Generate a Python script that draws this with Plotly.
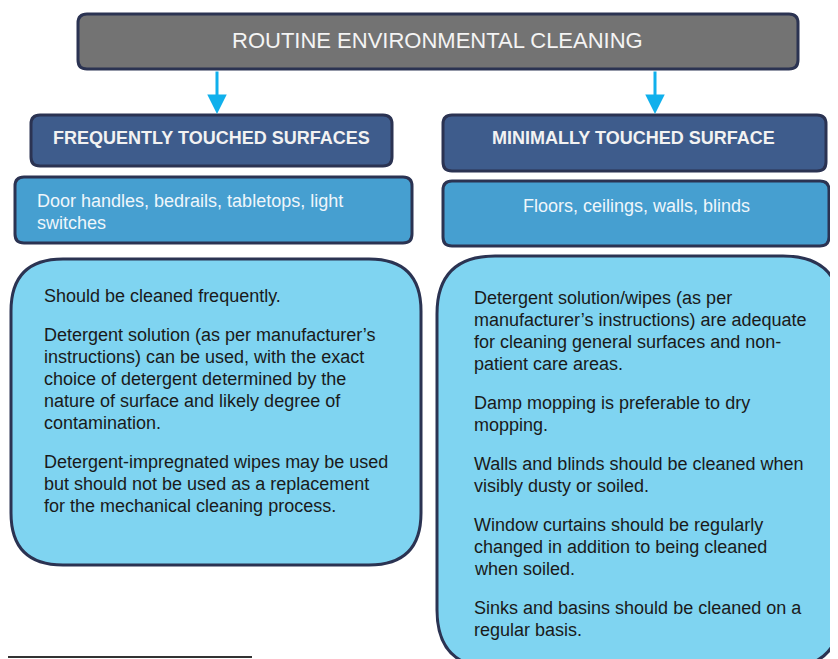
import plotly.graph_objects as go

W, H = 838, 659
OFF = 8  # page body margin compensation

title_text = "ROUTINE ENVIRONMENTAL CLEANING"
headers = ["FREQUENTLY TOUCHED SURFACES", "MINIMALLY TOUCHED SURFACE"]
examples_left = ["Door handles, bedrails, tabletops, light", "switches"]
examples_right = ["Floors, ceilings, walls, blinds"]
notes_left = [
    ["Should be cleaned frequently."],
    ["Detergent solution (as per manufacturer\u2019s", "instructions) can be used, with the exact",
     "choice of detergent determined by the", "nature of surface and likely degree of", "contamination."],
    ["Detergent-impregnated wipes may be used", "but should not be used as a replacement",
     "for the mechanical cleaning process."],
]
notes_right = [
    ["Detergent solution/wipes (as per", "manufacturer\u2019s instructions) are adequate",
     "for cleaning general surfaces and non-", "patient care areas."],
    ["Damp mopping is preferable to dry", "mopping."],
    ["Walls and blinds should be cleaned when", "visibly dusty or soiled."],
    ["Window curtains should be regularly", "changed in addition to being cleaned", "when soiled."],
    ["Sinks and basins should be cleaned on a", "regular basis."],
]

FONT = "Liberation Sans, Arial, sans-serif"
BORDER = "#2b3352"


def rrect(x0, y0, x1, y1, r):
    return (f"M {x0+r},{y0} L {x1-r},{y0} Q {x1},{y0} {x1},{y0+r} "
            f"L {x1},{y1-r} Q {x1},{y1} {x1-r},{y1} L {x0+r},{y1} "
            f"Q {x0},{y1} {x0},{y1-r} L {x0},{y0+r} Q {x0},{y0} {x0+r},{y0} Z")


shapes = []
annotations = []


def box(x0, y0, x1, y1, r, fill, lw=3):
    shapes.append(dict(type="path", path=rrect(x0, y0, x1, y1, r), xref="x", yref="y",
                       fillcolor=fill, line=dict(color=BORDER, width=lw), layer="below"))


def text(x, y, s, size, color, xanchor="left", bold=False):
    if bold:
        s = f"<b>{s}</b>"
    annotations.append(dict(x=x, y=y, xref="x", yref="y", text=s, showarrow=False,
                            xanchor=xanchor, yanchor="middle",
                            font=dict(family=FONT, size=size, color=color)))


# top box
box(78, 14, 798, 69, 9, "#737373")
text(437, 40, title_text, 22, "#f4f4f4", "center")

# arrows
for x in (217, 655):
    annotations.append(dict(x=x, y=114, ax=x, ay=70, xref="x", yref="y", axref="x", ayref="y",
                            text="", showarrow=True, arrowhead=2, arrowsize=1.3, arrowwidth=3,
                            arrowcolor="#10b0ec"))

# header boxes
box(31, 115, 392, 166, 9, "#3e5c8c")
text(211, 138, headers[0], 18, "#f2f2f2", "center", bold=True)
box(443, 115, 826, 171, 9, "#3e5c8c")
text(633, 138, headers[1], 18, "#f2f2f2", "center", bold=True)

# example boxes
box(15, 177, 412, 243, 9, "#469fd0")
for i, s in enumerate(examples_left):
    text(35, 201 + 22 * i, s, 18, "#eef6fb")
box(443, 181, 829, 246, 9, "#469fd0")
text(636, 206, examples_right[0], 18, "#eef6fb", "center")

# note boxes
box(11, 259, 421, 565, 52, "#7fd4f1")
box(437, 256, 841, 668, 58, "#7fd4f1")

LH = 22
PG = 17


def paragraphs(x, y, paras):
    for para in paras:
        for s in para:
            text(x, y, s, 18, "#1a1a1a")
            y += LH
        y += PG


paragraphs(42, 296, notes_left)
paragraphs(472, 298, notes_right)

# bottom rule
shapes.append(dict(type="line", x0=0, x1=252, y0=657, y1=657, xref="x", yref="y",
                   line=dict(color="#333333", width=2)))

fig = go.Figure()
fig.update_layout(
    width=W, height=H, margin=dict(l=0, r=0, t=0, b=0),
    paper_bgcolor="white", plot_bgcolor="white",
    xaxis=dict(range=[OFF, W + OFF], visible=False, fixedrange=True),
    yaxis=dict(range=[H + OFF, OFF], visible=False, fixedrange=True),
    shapes=shapes, annotations=annotations, showlegend=False,
)
fig.write_html("out.html")
